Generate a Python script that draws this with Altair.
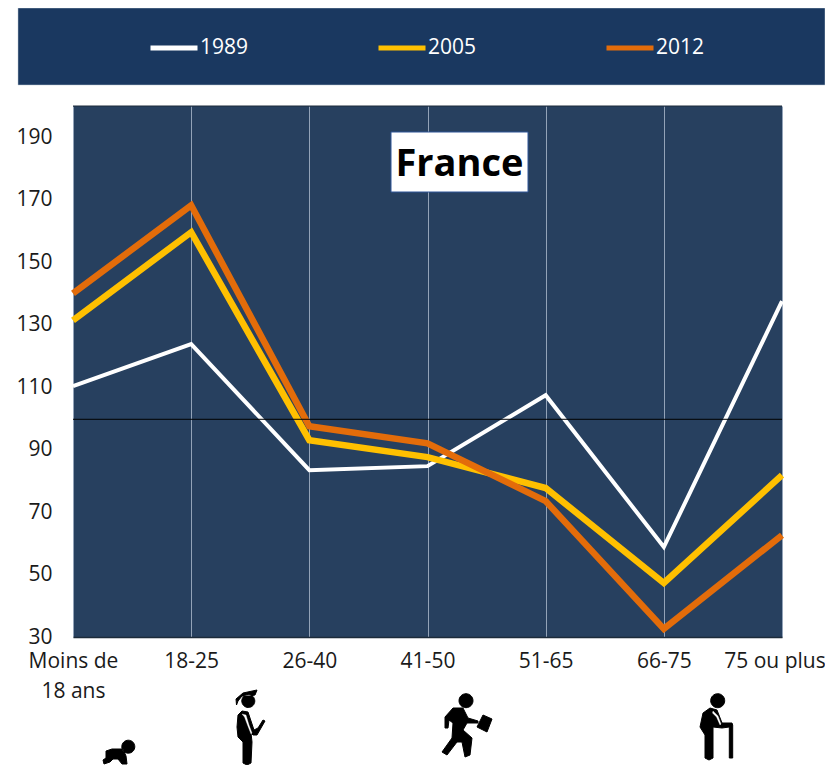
import altair as alt
import pandas as pd

ages = ["Moins de 18 ans", "18-25", "26-40", "41-50", "51-65", "66-75", "75 ou plus"]
v1989 = [110.3, 123.8, 83.4, 84.7, 107.4, 58.8, 137.5]
v2005 = [131.4, 159.6, 93.0, 87.6, 77.7, 47.3, 81.8]
v2012 = [140.0, 168.2, 97.5, 92.0, 73.5, 32.6, 62.6]
years = ["1989", "2005", "2012"]
colors = ["#ffffff", "#ffc000", "#e36c0a"]
widths = [4, 6.5, 6.5]
y_ticks = [30, 50, 70, 90, 110, 130, 150, 170, 190]

BANNER = "#1a3860"
PLOT = "#27405f"
FONT = "Open Sans"

rows = []
for yr, vals in zip(years, [v1989, v2005, v2012]):
    for a, v in zip(ages, vals):
        rows.append({"age": a, "year": yr, "value": v})
df = pd.DataFrame(rows)
one = pd.DataFrame({"t": ["France"]})

PX, PY = 73, 106  # plot origin on the page


def poly(points, cx, cy):
    return "M" + "L".join(f"{x - cx:.1f} {y - cy:.1f}" for x, y in points) + "Z"


def head(x, y, r, cx, cy):
    return f"M{x - r - cx:.1f} {y - cy:.1f}a{r} {r} 0 1 0 {2 * r} 0a{r} {r} 0 1 0 {-2 * r} 0Z"


# drawn position (x, y), colour and outline of each pictogram piece
icons = [
    (115, 754, "#000000", [
        head(128.3, 752.7, 6.5, 115, 760),
        poly([(106, 757), (112, 755), (123, 755), (126, 762), (127, 770), (122, 770), (118, 765),
              (113, 765), (110, 768), (104, 770), (103, 766), (106, 764)], 115, 760),
    ]),
    (250, 727, "#000000", [
        head(248.3, 704, 6.5, 250, 730),
        poly([(243, 696), (257, 693), (255, 698), (250, 699), (242, 699), (238, 704), (236.5, 708),
              (236, 702)], 250, 730),
        poly([(238, 718), (242, 714), (248, 715), (251, 724), (254, 733), (258, 731), (263, 723),
              (265, 724), (257, 738), (253, 738), (251, 736), (252, 745), (251, 766), (247, 768),
              (243, 766), (243, 745), (238, 740), (237, 730)], 250, 730),
    ]),
    (250, 727, "#ffffff", [
        poly([(242, 717), (246, 718), (249, 728), (252, 736), (251, 737), (247.5, 728), (244.5, 720)], 250, 730),
    ]),
    (466, 728, "#000000", [
        head(466, 700.7, 7, 466, 728),
        poly([(483, 715), (492, 719), (487, 732), (477, 727)], 466, 728),
        poly([(453, 708), (463, 708), (468, 718), (478, 721), (478, 723), (467, 723), (463, 730),
              (472, 738), (470, 755), (465, 757), (462, 742), (457, 742), (447, 755), (442, 752),
              (452, 738), (453, 723), (449, 720), (448, 728), (445, 728), (445, 717)], 466, 728),
    ]),
    (716, 730, "#000000", [
        head(717.7, 700.7, 7, 716, 730),
        poly([(710, 708), (717, 710), (722, 723), (732, 723), (732.7, 725), (732.7, 758), (729.3, 758),
              (729.3, 727), (722, 728), (713, 727), (713, 758), (709, 760), (705, 758), (705, 735),
              (700, 727), (703, 713)], 716, 730),
    ]),
    (716, 730, "#ffffff", [
        poly([(713, 711), (718, 716), (721, 724), (720, 725), (716.5, 717), (712.5, 713)], 716, 730),
    ]),
]

x_enc = alt.X(
    "age:N", sort=ages, title=None,
    scale=alt.Scale(type="point", padding=0),
    axis=alt.Axis(
        labelAngle=0, grid=True, gridColor="#93a3b8", gridWidth=1, ticks=False,
        domainColor="#1c2b3a", domainWidth=1.5, labelPadding=13, labelFontSize=21, labelFont=FONT,
        labelColor="#1a1a1a", labelLineHeight=30, labelOverlap=False, labelFlush=False, labelBound=False,
        labelOffset={"condition": {"test": "datum.label == '75 ou plus'", "value": -7.5}, "value": 0},
        labelExpr="datum.label == 'Moins de 18 ans' ? ['Moins de', '18 ans'] : datum.label",
    ),
)
y_enc = alt.Y(
    "value:Q", title=None,
    scale=alt.Scale(domain=[30, 200], nice=False, zero=False),
    axis=alt.Axis(
        values=y_ticks, grid=False, ticks=False, domain=False, labelPadding=21, labelFontSize=21,
        labelFont=FONT, labelColor="#1a1a1a", labelBound=False, labelFlush=False, labelOverlap=False,
    ),
)
color_enc = alt.Color(
    "year:N",
    scale=alt.Scale(domain=years, range=colors),
    legend=alt.Legend(
        title=None, orient="none", direction="horizontal", columns=3, legendX=148 - PX,
        legendY=22 - PY, symbolType="stroke", symbolSize=2209, symbolStrokeWidth=5,
        labelFontSize=21, labelFont=FONT, labelColor="#ffffff", labelOffset=0, columnPadding=119,
        padding=0,
    ),
)

banner = alt.Chart(one).mark_rect(fill=BANNER, stroke="#b8c4d2", strokeWidth=0.5).encode(
    x=alt.value(18 - PX), x2=alt.value(825 - PX), y=alt.value(8 - PY), y2=alt.value(85 - PY)
)

line_layers = [
    alt.Chart(df[df["year"] == yr]).mark_line(strokeJoin="miter", strokeWidth=w).encode(
        x=x_enc, y=y_enc, color=color_enc
    )
    for yr, w in zip(years, widths)
]

ref = alt.Chart(one).mark_rule(color="#000000", strokeWidth=1).encode(y=alt.datum(99.7))
top = alt.Chart(one).mark_rule(color="#1c2b3a", strokeWidth=1).encode(y=alt.datum(200))

box = alt.Chart(one).mark_rect(fill="#ffffff", stroke="#2f5597", strokeWidth=1).encode(
    x=alt.value(391 - PX), x2=alt.value(528 - PX), y=alt.value(132 - PY), y2=alt.value(192 - PY)
)
label = alt.Chart(one).mark_text(
    font=FONT, fontSize=38, fontWeight="bold", color="#000000", align="center", baseline="middle"
).encode(x=alt.value(459.5 - PX), y=alt.value(165 - PY), text="t:N")

icon_layers = []
for cx, cy, col, parts in icons:
    icon_layers.append(
        alt.Chart(one).mark_point(
            shape="".join(parts), size=4, filled=True, fill=col, stroke=col,
            strokeWidth=1 if col == "#000000" else 0.3, strokeJoin="round", opacity=1,
        ).encode(x=alt.value(cx - PX), y=alt.value(cy - PY))
    )

chart = alt.layer(banner, *line_layers, ref, top, box, label, *icon_layers).properties(
    width=709, height=531,
    padding={"left": PX - 8, "top": PY - 8, "right": 43, "bottom": 128},
    autosize=alt.AutoSizeParams(type="none"),
).configure_view(fill=PLOT, stroke=None)

chart.save("out.html", embed_options={"renderer": "svg", "actions": False})
